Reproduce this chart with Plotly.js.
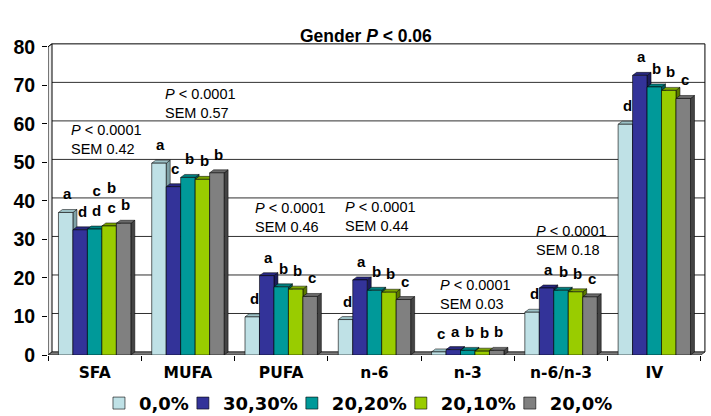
<!DOCTYPE html>
<html>
<head>
<meta charset="utf-8">
<script src="https://cdn.plot.ly/plotly-3.0.1.min.js"></script>
<style>html,body{margin:0;padding:0;background:#fff;}#chart{width:711px;height:416px;}</style>
</head>
<body>
<div id="chart"></div>
<script>
// ---- data ----
const categories = ['SFA', 'MUFA', 'PUFA', 'n-6', 'n-3', 'n-6/n-3', 'IV'];
const seriesNames = ['0,0%', '30,30%', '20,20%', '20,10%', '20,0%'];
const s00   = [37.0, 49.8,  9.9,  9.2, 0.8, 11.1, 59.9];
const s3030 = [32.5, 43.7, 20.6, 19.5, 1.4, 17.4, 72.6];
const s2020 = [32.7, 46.1, 17.7, 16.8, 1.2, 16.8, 69.6];
const s2010 = [33.5, 45.6, 17.1, 16.3, 1.0, 16.4, 68.7];
const s200  = [34.2, 47.3, 15.2, 14.4, 1.2, 15.1, 66.6];
const letters00   = ['a', 'a', 'd', 'd', 'c', 'd', 'd'];
const letters3030 = ['d', 'c', 'a', 'a', 'a', 'a', 'a'];
const letters2020 = ['c<br>d', 'b', 'b', 'b', 'b', 'b', 'b'];
const letters2010 = ['b<br>c', 'b', 'b', 'b', 'b', 'b', 'b'];
const letters200  = ['b', 'b', 'c', 'c', 'b', 'c', 'c'];
const pValueText = '<i>P</i> &lt; 0.0001';
const semValues = ['0.42', '0.57', '0.46', '0.44', '0.03', '0.18', '0.57'];
const yTicks = [0, 10, 20, 30, 40, 50, 60, 70, 80];

// ---- styling / geometry ----
const series = [s00, s3030, s2020, s2010, s200];
const letters = [letters00, letters3030, letters2020, letters2010, letters200];
const frontColors = ['#BFE1E6', '#333399', '#009999', '#99CC00', '#808080'];
const topColors   = ['#9DC2C7', '#282880', '#007F7F', '#7AA300', '#6A6A6A'];
const sideColors  = ['#7FA2A7', '#1C1C5C', '#005A5A', '#5A7800', '#444444'];
const FONT = 'Liberation Sans, Arial, sans-serif';
const WIDEFONT = 'DejaVu Sans, Verdana, sans-serif';
const W = 711, H = 416;
const L = 48, B = 60.5;
const ux = 93.333, uy = 3.8625;          // px per data unit
const X0 = -0.5, X1 = 6.565, Y0 = 0, Y1 = 81;
const R = W - L - (X1 - X0) * ux;
const T = H - B - (Y1 - Y0) * uy;
const plotW = W - L - R, plotH = H - B - T;
const dX = 4 / ux, dY = 3 / uy;            // 3D depth in data units
const bargap = 0.224;
const bw = (1 - bargap) / series.length;
const xs = categories.map((c, i) => i);
const xLeft = -0.5, xRight = categories.length - 0.5, yTop = 80;

// legend text widths (to tighten item spacing like the original)
const LEG_SIZE = 18;
const ctx = document.createElement('canvas').getContext('2d');
ctx.font = 'bold ' + LEG_SIZE + 'px "DejaVu Sans"';

const traces = series.map((vals, j) => {
  const tw = ctx.measureText(seriesNames[j]).width;
  return {
    type: 'bar', x: xs, y: vals, name: seriesNames[j],
    marker: { color: frontColors[j], line: { color: '#000', width: 0.6 } },
    legendwidth: j === series.length - 1 ? tw + 4 : Math.max(1, tw - 11),
    hoverinfo: 'skip'
  };
});

const shapes = [];
yTicks.forEach(v => {
  shapes.push({ type: 'path', xref: 'x', yref: 'y', layer: 'between',
    path: `M${xLeft},${v} L${xLeft + dX},${v + dY} L${xRight + dX},${v + dY}`,
    line: { color: v === yTop ? '#000' : '#303030', width: 1 } });
});
shapes.push({ type: 'path', xref: 'x', yref: 'y', layer: 'between',
  path: `M${xRight + dX},${dY} L${xRight + dX},${yTop + dY}`, line: { color: '#000', width: 1 } });
shapes.push({ type: 'path', xref: 'x', yref: 'y', layer: 'between',
  path: `M${xLeft},0 L${xLeft},${yTop} L${xLeft + dX},${yTop + dY} L${xLeft + dX},${dY} Z`,
  fillcolor: '#EDEDED', line: { color: '#000', width: 1 } });
shapes.push({ type: 'path', xref: 'x', yref: 'y', layer: 'between',
  path: `M${xLeft},0 L${xRight},0 L${xRight + dX},${dY} L${xLeft + dX},${dY} Z`,
  fillcolor: '#7A7A7A', line: { color: '#222', width: 0.8 } });
categories.forEach((c, i) => {
  series.forEach((vals, j) => {
    const v = vals[i];
    const xa = i + (j - (series.length - 1) / 2) * bw - bw / 2;
    const xb = xa + bw;
    shapes.push({ type: 'path', xref: 'x', yref: 'y', layer: 'between',
      path: `M${xb},0 L${xb + dX},${dY} L${xb + dX},${v + dY} L${xb},${v} Z`,
      fillcolor: sideColors[j], line: { color: '#000', width: 0.5 } });
    shapes.push({ type: 'path', xref: 'x', yref: 'y', layer: 'between',
      path: `M${xa},${v} L${xa + dX},${v + dY} L${xb + dX},${v + dY} L${xb},${v} Z`,
      fillcolor: topColors[j], line: { color: '#000', width: 0.5 } });
  });
});

const annotations = [];
categories.forEach((c, i) => {
  series.forEach((vals, j) => {
    annotations.push({ xref: 'x', yref: 'y',
      x: i + (j - (series.length - 1) / 2) * bw, y: vals[i] + dY,
      text: letters[j][i], showarrow: false, xanchor: 'center', yanchor: 'bottom',
      xshift: 2, yshift: 5,
      font: { family: FONT, size: 15, weight: 'bold', color: '#000' } });
  });
});
const pBlockX = [-0.28, -0.27, -0.30, -0.34, -0.32, -0.29, -0.275];
const pBlockY = [56.05, 65.24, 35.6, 35.86, 15.66, 29.64, 85.05];
categories.forEach((c, i) => {
  annotations.push({ xref: 'x', yref: 'y', x: i + pBlockX[i], y: pBlockY[i],
    text: pValueText + '<br>SEM 0' + semValues[i].slice(1),
    showarrow: false, xanchor: 'left', yanchor: 'middle', align: 'left',
    font: { family: FONT, size: 14.5, color: '#000' } });
});
annotations.push({ xref: 'paper', yref: 'paper', x: (366 - L) / plotW, y: (H - B - 36) / plotH,
  text: 'Gender <i>P</i> &lt; 0.06', showarrow: false, xanchor: 'center', yanchor: 'middle',
  font: { family: FONT, size: 17.5, weight: 'bold', color: '#000' } });

const layout = {
  width: W, height: H,
  margin: { l: L, r: R, t: T, b: B, autoexpand: false },
  paper_bgcolor: '#fff', plot_bgcolor: 'rgba(0,0,0,0)',
  barmode: 'group', bargap: bargap, bargroupgap: 0,
  showlegend: true,
  legend: { orientation: 'h', x: (99 - L) / plotW, xanchor: 'left',
    y: (H - B - 404) / plotH, yanchor: 'middle',
    font: { family: WIDEFONT, size: LEG_SIZE, weight: 'bold', color: '#000' },
    traceorder: 'normal', itemclick: false },
  xaxis: { range: [X0, X1], tickvals: xs, ticktext: categories, ticks: '',
    showgrid: false, zeroline: false, showline: false,
    tickfont: { family: WIDEFONT, size: 15.5, weight: 'bold', color: '#000' },
    ticklabelstandoff: 6,
    minor: { tick0: -0.5, dtick: 1, ticks: 'outside', ticklen: 5, tickcolor: '#000', tickwidth: 1, showgrid: false } },
  yaxis: { range: [Y0, Y1], tickvals: yTicks, ticks: 'outside', ticklen: 5, tickcolor: '#000',
    showgrid: false, zeroline: false, showline: false,
    tickfont: { family: FONT, size: 19.5, weight: 'bold', color: '#000' },
    ticklabelstandoff: 3 },
  shapes: shapes,
  annotations: annotations
};

Plotly.newPlot('chart', traces, layout, { displayModeBar: false, staticPlot: true });
</script>
</body>
</html>
